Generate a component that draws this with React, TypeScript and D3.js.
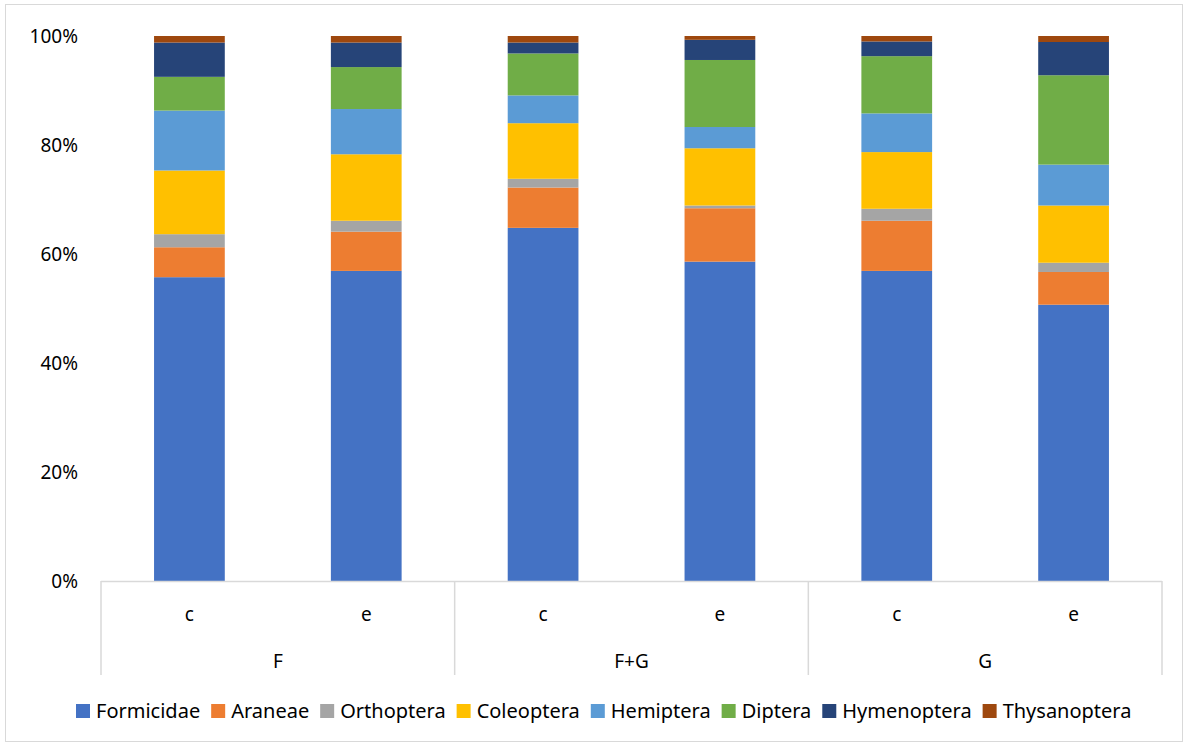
import React, { useEffect, useRef } from "react";
import * as d3 from "d3";

// Sampling sites (group) and treatment (c / e) for each stacked column
const groups = ["F", "F+G", "G"];
const treatments = ["c", "e"];

// Insect orders, bottom to top of each stack
const orders = [
  "Formicidae",
  "Araneae",
  "Orthoptera",
  "Coleoptera",
  "Hemiptera",
  "Diptera",
  "Hymenoptera",
  "Thysanoptera",
];

const orderColors = [
  "#4472C4",
  "#ED7D31",
  "#A5A5A5",
  "#FFC000",
  "#5B9BD5",
  "#70AD47",
  "#264478",
  "#9E480E",
];

// Share (%) of each order per column: F-c, F-e, F+G-c, F+G-e, G-c, G-e
const formicidae = [55.8, 56.9, 64.8, 58.6, 56.9, 50.7];
const araneae = [5.5, 7.2, 7.4, 9.8, 9.2, 6.0];
const orthoptera = [2.4, 2.0, 1.6, 0.5, 2.2, 1.7];
const coleoptera = [11.7, 12.2, 10.2, 10.5, 10.4, 10.5];
const hemiptera = [11.0, 8.3, 5.1, 3.9, 7.1, 7.5];
const diptera = [6.2, 7.7, 7.7, 12.3, 10.5, 16.4];
const hymenoptera = [6.3, 4.5, 2.0, 3.7, 2.7, 6.1];
const thysanoptera = [1.2, 1.2, 1.2, 0.7, 1.0, 1.1];

const seriesValues = [
  formicidae,
  araneae,
  orthoptera,
  coleoptera,
  hemiptera,
  diptera,
  hymenoptera,
  thysanoptera,
];

const yTicks = [0, 0.2, 0.4, 0.6, 0.8, 1.0];

const W = 1188;
const H = 745;
const FONT = "'Noto Sans', 'Open Sans', sans-serif";

export default function App() {
  const ref = useRef<SVGSVGElement | null>(null);

  useEffect(() => {
    const svg = d3.select(ref.current);
    svg.selectAll("*").remove();

    const plot = { left: 101, right: 1162, top: 36, bottom: 581 };

    // rows for stacking
    const columns: { key: string; group: string; treat: string }[] = [];
    groups.forEach((g) =>
      treatments.forEach((t) => columns.push({ key: `${g}|${t}`, group: g, treat: t }))
    );
    const rows = columns.map((c, i) => {
      const r: Record<string, any> = { key: c.key };
      orders.forEach((o, j) => (r[o] = seriesValues[j][i]));
      return r;
    });

    const stacked = d3
      .stack<Record<string, any>>()
      .keys(orders)
      .offset(d3.stackOffsetExpand)(rows);

    const x = d3
      .scaleBand<string>()
      .domain(columns.map((c) => c.key))
      .range([plot.left, plot.right])
      .paddingInner(0.6)
      .paddingOuter(0.3);

    const y = d3.scaleLinear().domain([0, 1]).range([plot.bottom, plot.top]);

    // outer chart border
    svg
      .append("rect")
      .attr("x", 5.5)
      .attr("y", 4.5)
      .attr("width", W - 11)
      .attr("height", H - 8)
      .attr("fill", "#fff")
      .attr("stroke", "#d9d9d9")
      .attr("stroke-width", 1);

    // stacked bars
    const layer = svg.append("g");
    stacked.forEach((s, i) => {
      layer
        .append("g")
        .attr("fill", orderColors[i])
        .selectAll("rect")
        .data(s)
        .join("rect")
        .attr("x", (d) => x(d.data.key as string)!)
        .attr("width", x.bandwidth())
        .attr("y", (d) => y(d[1]))
        .attr("height", (d) => y(d[0]) - y(d[1]));
    });

    // y axis labels
    const yAxis = svg.append("g").attr("font-family", FONT).attr("font-size", 19).attr("fill", "#000");
    yTicks.forEach((t) => {
      yAxis
        .append("text")
        .attr("x", 78)
        .attr("y", y(t))
        .attr("dy", "0.35em")
        .attr("text-anchor", "end")
        .text(d3.format(".0%")(t));
    });

    // category axis with grouped labels
    const axisColor = "#d9d9d9";
    const axisBottom = 675;
    const cat = svg.append("g");
    cat
      .append("line")
      .attr("x1", plot.left)
      .attr("x2", plot.right)
      .attr("y1", plot.bottom + 0.5)
      .attr("y2", plot.bottom + 0.5)
      .attr("stroke", axisColor)
      .attr("stroke-width", 1.5);

    const groupEdges = groups.map((_, gi) => plot.left + (plot.right - plot.left) * (gi / groups.length));
    groupEdges.push(plot.right);
    groupEdges.forEach((gx) => {
      cat
        .append("line")
        .attr("x1", gx)
        .attr("x2", gx)
        .attr("y1", plot.bottom)
        .attr("y2", axisBottom)
        .attr("stroke", axisColor)
        .attr("stroke-width", 1.5);
    });

    const labels = svg
      .append("g")
      .attr("font-family", FONT)
      .attr("font-size", 19)
      .attr("fill", "#000")
      .attr("text-anchor", "middle");
    columns.forEach((c) => {
      labels
        .append("text")
        .attr("x", x(c.key)! + x.bandwidth() / 2)
        .attr("y", 614)
        .attr("dy", "0.35em")
        .text(c.treat);
    });
    groups.forEach((g) => {
      const xs = columns.filter((c) => c.group === g).map((c) => x(c.key)! + x.bandwidth() / 2);
      labels
        .append("text")
        .attr("x", d3.mean(xs)!)
        .attr("y", 661)
        .attr("dy", "0.35em")
        .text(g);
    });

    // legend
    const legend = svg.append("g").attr("font-family", FONT).attr("font-size", 20).attr("fill", "#000");
    const sw = 14;
    const gapSwText = 6;
    const gapItems = 11;
    const items = orders.map((o, i) => {
      const g = legend.append("g");
      g.append("rect").attr("width", sw).attr("height", sw).attr("y", -sw / 2).attr("fill", orderColors[i]);
      const t = g
        .append("text")
        .attr("x", sw + gapSwText)
        .attr("dy", "0.35em")
        .text(o);
      const w = (t.node() as SVGTextElement).getComputedTextLength();
      return { g, w: sw + gapSwText + w };
    });
    const total = d3.sum(items, (d) => d.w) + gapItems * (items.length - 1);
    let cx = 76;
    void total;
    items.forEach((it) => {
      it.g.attr("transform", `translate(${cx},711)`);
      cx += it.w + gapItems;
    });
  }, []);

  return (
    <svg
      ref={ref}
      width={W}
      height={H}
      viewBox={`0 0 ${W} ${H}`}
      style={{ display: "block", position: "absolute", left: 0, top: 0 }}
    />
  );
}
